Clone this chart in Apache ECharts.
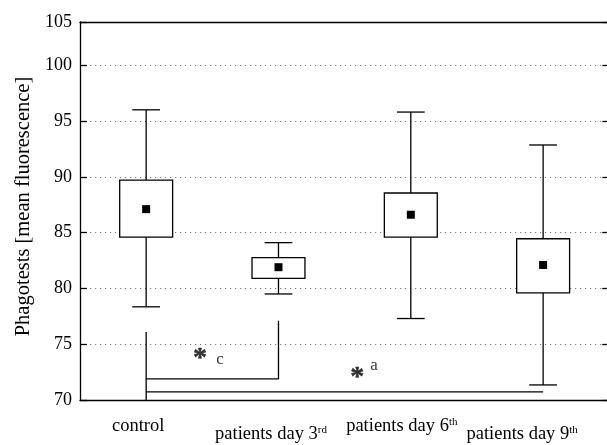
<!DOCTYPE html>
<html><head><meta charset="utf-8">
<script src="https://cdn.jsdelivr.net/npm/echarts@6/dist/echarts.min.js"></script>
<style>html,body{margin:0;padding:0;background:#fff}#c{width:607px;height:445px}</style>
</head><body><div id="c"></div>
<script>
// ---- data ----
const categories = ['control', 'patients day 3', 'patients day 6', 'patients day 9'];
const superscripts = ['', 'rd', 'th', 'th'];
const whiskerLow  = [78.35, 79.5, 77.3, 71.35];
const boxLow      = [84.6, 80.9, 84.6, 79.6];
const boxHigh     = [89.7, 82.75, 88.55, 84.45];
const whiskerHigh = [96.0, 84.1, 95.8, 92.85];
const means       = [87.1, 81.9, 86.6, 82.1];
const yTickLabels = ['70', '75', '80', '85', '90', '95', '100', '105'];
const yAxisName = 'Phagotests [mean fluorescence]';
const bracketC = [[1, 76.1], [1, 71.9], [2, 71.9], [2, 77.1]];
const bracketCStem = [[1, 71.9], [1, 70]];
const bracketA = [[1, 70.72], [4, 70.72]];
const annoX = [1.407, 1.558, 2.596, 2.722];
const annoY = [74.2, 73.6, 72.55, 73.05];
const annoText = ['*', 'c', '*', 'a'];

// ---- layout (not data) ----
const FONT = 'Liberation Serif';
const labelLow = [false, true, false, true];
const labelShift = [-8, -7.5, -9, -21];

const rich = {};
categories.forEach((c, i) => {
  const pt = labelLow[i] ? 8 : 0;
  const pr = -2 * labelShift[i];
  rich['m' + i] = { fontFamily: FONT, fontSize: 18.5, color: '#000', padding: [pt, superscripts[i] ? 0 : pr, 0, 0] };
  rich['s' + i] = { fontFamily: FONT, fontSize: 11, color: '#000', verticalAlign: 'top', padding: [pt, pr, 0, 0] };
});

const boxData = categories.map((c, i) => [i + 1, whiskerLow[i], boxLow[i], boxHigh[i], whiskerHigh[i], means[i]]);

const black = '#000';
const LW = 1.3;

const chart = echarts.init(document.getElementById('c'), null, { renderer: 'canvas' });
chart.setOption({
  animation: false,
  backgroundColor: '#fff',
  grid: { left: 80, top: 22, width: 529.3, height: 378, outerBoundsMode: 'none', containLabel: false },
  xAxis: [
    {
      type: 'category', data: categories, position: 'bottom', boundaryGap: true,
      axisLine: { lineStyle: { color: black, width: LW } },
      axisTick: { alignWithLabel: true, inside: true, length: 9, lineStyle: { color: black, width: LW } },
      axisLabel: {
        interval: 0, margin: 17, rich: rich,
        formatter: (v, i) => '{m' + i + '|' + v + '}' + (superscripts[i] ? '{s' + i + '|' + superscripts[i] + '}' : '')
      },
      splitLine: { show: false }
    },
    {
      type: 'category', data: categories, position: 'top', boundaryGap: true,
      axisLine: { lineStyle: { color: black, width: LW } },
      axisTick: { alignWithLabel: true, inside: true, length: 9, lineStyle: { color: black, width: LW } },
      axisLabel: { show: false }, splitLine: { show: false }
    },
    { type: 'value', min: 0.5, max: 4.5, show: false }
  ],
  yAxis: [
    {
      type: 'value', min: 70, max: 103.87, interval: 5, position: 'left',
      axisLine: { show: true, lineStyle: { color: black, width: LW } },
      axisTick: { show: true, inside: true, length: 7, lineStyle: { color: black, width: LW } },
      axisLabel: {
        margin: 8, fontFamily: FONT, fontSize: 18, color: black,
        formatter: v => yTickLabels[Math.round((v - 70) / 5)]
      },
      splitLine: { show: true, lineStyle: { type: [1.2, 3.8], color: '#777', width: 1 } },
      name: yAxisName, nameLocation: 'middle', nameGap: 45,
      nameTextStyle: { fontFamily: FONT, fontSize: 20.5, color: black, padding: [0, 0, 0, 9] }
    },
    {
      type: 'value', min: 70, max: 103.87, interval: 5, position: 'right',
      axisLine: { show: true, lineStyle: { color: black, width: LW } },
      axisTick: { show: true, inside: true, length: 7, lineStyle: { color: black, width: LW } },
      axisLabel: { show: false }, splitLine: { show: false }
    }
  ],
  series: [
    {
      type: 'custom', xAxisIndex: 2, yAxisIndex: 0, data: boxData,
      encode: { x: 0, y: [1, 2, 3, 4, 5] },
      renderItem: (params, api) => {
        const x = api.value(0);
        const pWL = api.coord([x, api.value(1)]);
        const pBL = api.coord([x, api.value(2)]);
        const pBH = api.coord([x, api.value(3)]);
        const pWH = api.coord([x, api.value(4)]);
        const pM = api.coord([x, api.value(5)]);
        const bw = api.size([0.4, 0])[0];
        const cw = api.size([0.21, 0])[0];
        const ls = { stroke: black, lineWidth: LW, fill: null };
        const ms = 8;
        return {
          type: 'group',
          children: [
            { type: 'line', shape: { x1: pWL[0], y1: pWL[1], x2: pBL[0], y2: pBL[1] }, style: ls },
            { type: 'line', shape: { x1: pBH[0], y1: pBH[1], x2: pWH[0], y2: pWH[1] }, style: ls },
            { type: 'line', shape: { x1: pWL[0] - cw / 2, y1: pWL[1], x2: pWL[0] + cw / 2, y2: pWL[1] }, style: ls },
            { type: 'line', shape: { x1: pWH[0] - cw / 2, y1: pWH[1], x2: pWH[0] + cw / 2, y2: pWH[1] }, style: ls },
            { type: 'rect', shape: { x: pBH[0] - bw / 2, y: pBH[1], width: bw, height: pBL[1] - pBH[1] }, style: { stroke: black, lineWidth: LW, fill: '#fff' } },
            { type: 'rect', shape: { x: pM[0] - ms / 2, y: pM[1] - ms / 2, width: ms, height: ms }, style: { fill: black } }
          ]
        };
      },
      z: 3
    },
    {
      type: 'line', xAxisIndex: 2, yAxisIndex: 0, data: bracketC, symbol: 'none',
      lineStyle: { color: black, width: LW }, z: 3
    },
    {
      type: 'line', xAxisIndex: 2, yAxisIndex: 0, data: bracketCStem, symbol: 'none',
      lineStyle: { color: black, width: LW }, z: 3
    },
    {
      type: 'line', xAxisIndex: 2, yAxisIndex: 0, data: bracketA, symbol: 'none',
      lineStyle: { color: black, width: LW }, z: 3
    },
    {
      type: 'scatter', xAxisIndex: 2, yAxisIndex: 0, symbolSize: 0.1,
      itemStyle: { color: 'transparent' }, z: 4,
      data: annoX.map((x, i) => ({
        value: [x, annoY[i]],
        label: annoText[i] === '*'
          ? { show: true, position: 'inside', formatter: annoText[i], fontFamily: FONT, fontWeight: 'bold', fontSize: 28, color: black, textBorderColor: black, textBorderWidth: 0.4, offset: [0, 6] }
          : { show: true, position: 'inside', formatter: annoText[i], fontFamily: FONT, fontSize: 17, color: black }
      }))
    }
  ]
});
</script></body></html>
